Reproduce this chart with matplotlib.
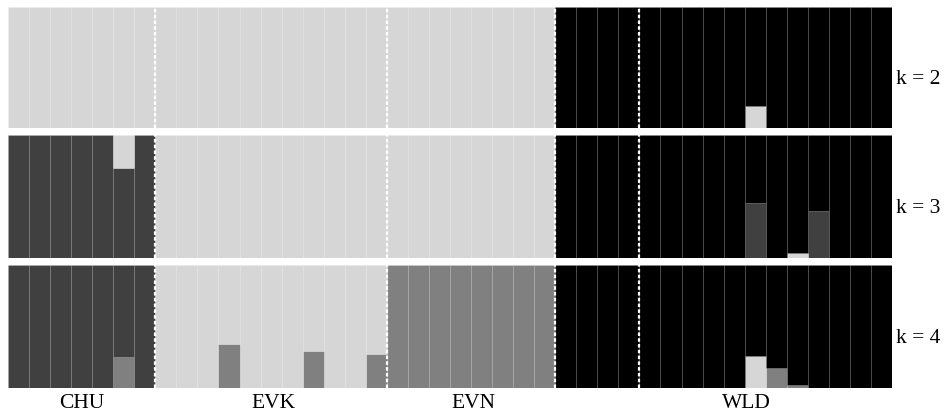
import matplotlib
matplotlib.use("Agg")
import matplotlib.pyplot as plt
import numpy as np

# ---------------- data ----------------
n_ind = 42
pop_sizes = [7, 11, 8, 4, 12]          # groups separated by dashed lines
pop_labels = ["CHU", "EVK", "EVN", "", "WLD"]
label_x = [3.5, 12.6, 22.1, None, 35.1]   # label centres (individual units)

colors = {"L": "#d6d6d6", "D": "#404040", "M": "#808080", "B": "#000000"}

# K = 2 : stacking order light, black
k2_order = ["L", "B"]
k2_L = [1.0]*26 + [0.0]*9 + [0.18] + [0.0]*6
k2_B = [1.0 - v for v in k2_L]

# K = 3 : stacking order dark, light, black
k3_order = ["D", "L", "B"]
k3_D = [1, 1, 1, 1, 1, 0.73, 1] + [0]*11 + [0]*8 + [0]*9 + [0.446, 0, 0, 0.386, 0, 0, 0]
k3_L = [0, 0, 0, 0, 0, 0.27, 0] + [1]*11 + [1]*8 + [0]*9 + [0, 0, 0.04, 0, 0, 0, 0]
k3_B = [1 - d - l for d, l in zip(k3_D, k3_L)]

# K = 4 : stacking order mid, dark, light, black
k4_order = ["M", "D", "L", "B"]
k4_M = ([0, 0, 0, 0, 0, 0.25, 0]
        + [0, 0, 0, 0.36, 0, 0, 0, 0.30, 0, 0, 0.28]
        + [1]*8
        + [0]*9 + [0, 0.166, 0.022, 0, 0, 0, 0])
k4_D = [1, 1, 1, 1, 1, 0.75, 1] + [0]*11 + [0]*8 + [0]*16
k4_L = ([0]*7
        + [1, 1, 1, 0.64, 1, 1, 1, 0.70, 1, 1, 0.72]
        + [0]*8
        + [0]*9 + [0.26, 0, 0, 0, 0, 0, 0])
k4_B = [1 - m - d - l for m, d, l in zip(k4_M, k4_D, k4_L)]

panels = [
    ("k = 2", k2_order, [k2_L, k2_B]),
    ("k = 3", k3_order, [k3_D, k3_L, k3_B]),
    ("k = 4", k4_order, [k4_M, k4_D, k4_L, k4_B]),
]

# ---------------- figure ----------------
W, H = 953, 412
fig = plt.figure(figsize=(W/100, H/100), dpi=100)
left = 8/W
width = (892-8)/W
panel_px = [(7, 128), (135, 258), (265, 388)]

serif = ["Liberation Serif", "DejaVu Serif"]
x = np.arange(n_ind)
bounds = np.cumsum(pop_sizes)[:-1]

for (title, order, comps), (top, bot) in zip(panels, panel_px):
    ax = fig.add_axes([left, 1 - bot/H, width, (bot - top)/H])
    bottom = np.zeros(n_ind)
    for key, vals in zip(order, comps):
        vals = np.clip(np.array(vals, dtype=float), 0, None)
        ax.bar(x, vals, bottom=bottom, width=1.0, align="edge",
               color=colors[key], edgecolor=(1, 1, 1, 0.05), linewidth=0.6)
        bottom += vals
    for b in bounds:
        ax.axvline(b, color="white", lw=1.6, ls=(0, (1.6, 1.0)))
    ax.set_xlim(0, n_ind)
    ax.set_ylim(0, 1)
    ax.set_xticks([])
    ax.set_yticks([])
    for s in ax.spines.values():
        s.set_visible(False)
    ax.text(1.004, 0.40, title, transform=ax.transAxes, ha="left", va="center",
            fontsize=15.5, family=serif)
    last_ax = ax

for lab, lx in zip(pop_labels, label_x):
    if lab:
        last_ax.text(lx, -0.045, lab, ha="center", va="top", fontsize=15.5,
                     family=serif, transform=last_ax.get_xaxis_transform())

fig.savefig("out.png", dpi=100)
